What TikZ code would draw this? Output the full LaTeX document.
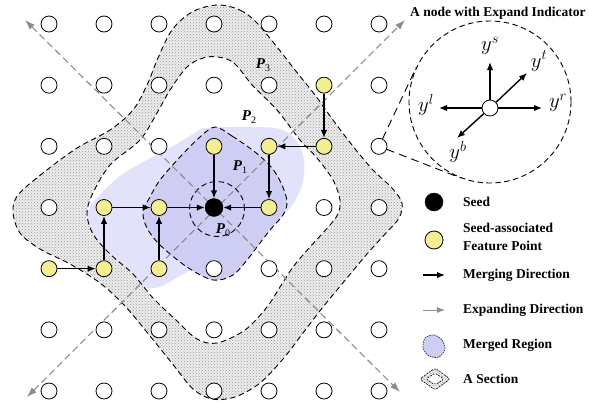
\documentclass[tikz,border=0pt]{standalone}
\usepackage{fontspec}
\setmainfont{Liberation Serif}
\usetikzlibrary{calc,arrows.meta,patterns}
\DeclareMathSizes{21}{21}{15}{11}
\definecolor{blobcol}{RGB}{226,226,250}
\definecolor{pone}{RGB}{206,206,245}
\definecolor{featyel}{RGB}{242,238,145}
\definecolor{expgray}{RGB}{140,140,140}
\begin{document}
\begin{tikzpicture}[x=1pt,y=-1pt,
  gridpt/.style={circle,draw=black,line width=0.8pt,fill=white,minimum size=16pt,inner sep=0pt},
  featpt/.style={gridpt,fill=featyel},
  seedpt/.style={circle,fill=black,draw=black,minimum size=18pt,inner sep=0pt},
  merge/.style={-{Latex[length=8pt,width=6.5pt]},line width=1.4pt},
  expand/.style={{Latex[length=10pt,width=7pt]}-{Latex[length=10pt,width=7pt]},draw=expgray,line width=1.1pt,dash pattern=on 7pt off 4pt},
  bound/.style={draw=black,line width=0.9pt,dash pattern=on 5.5pt off 3.5pt},
  lgd/.style={anchor=west,font=\bfseries\fontsize{13.5}{17.5}\selectfont,inner sep=0pt},
  plab/.style={font=\bfseries\itshape\fontsize{15}{15}\selectfont,inner sep=0pt},
  ylab/.style={font=\fontsize{21}{21}\selectfont,inner sep=0pt},
  stipple/.style={pattern=crosshatch dots,pattern color=gray!80,preaction={fill=gray!14}},
  outercurve/.style={insert path={plot[smooth cycle,tension=0.55] coordinates {(217,5) (240,10) (257,23) (277,47) (295,70) (315,95) (333,120) (352,145) (373,170) (392,188) (402,203) (399,218) (386,233) (367,254) (347,278) (323,307) (303,333) (283,359) (260,383) (235,397) (212,399) (193,389) (175,367) (150,336) (125,306) (100,283) (70,264) (40,249) (20,233) (13,212) (18,195) (43,173) (77,148) (110,130) (133,110) (147,85) (158,58) (172,30) (192,12)}}},
  middlecurve/.style={insert path={plot[smooth cycle,tension=0.55] coordinates {(218,57) (234,63) (253,86) (277,110) (300,140) (317,158) (333,180) (340,200) (338,214) (330,225) (310,247) (293,267) (280,287) (267,307) (245,330) (217,343) (197,339) (177,321) (153,298) (133,274) (110,254) (93,234) (87,214) (92,195) (110,165) (140,140) (157,113) (170,90) (187,67) (203,58)}}},
  innercurve/.style={insert path={plot[smooth cycle,tension=0.55] coordinates {(215,127) (232,136) (255,152) (272,168) (282,185) (287,202) (283,215) (270,230) (257,247) (247,260) (233,275) (213,280) (187,267) (160,245) (147,228) (143,212) (150,197) (160,180) (180,157) (200,137)}}},
  blobcurve/.style={insert path={plot[smooth cycle,tension=0.55] coordinates {(205,128) (250,127) (280,129) (296,140) (304,160) (302,185) (290,208) (268,228) (240,244) (210,259) (180,276) (155,288) (128,282) (100,260) (88,235) (88,212) (97,198) (120,176) (145,161) (173,146) (195,133)}}}
]
\useasboundingbox (0,0) rectangle (589,402);
% regions
\path[stipple,outercurve];
\fill[white,middlecurve];
\begin{scope}
\clip[middlecurve];
\fill[blobcol,blobcurve];
\end{scope}
\fill[pone,innercurve];
\draw[bound,outercurve];
\draw[bound,middlecurve];
\draw[bound,innercurve];
\node[circle,bound,minimum size=55pt,inner sep=0pt] (p0) at (217,209) {};
% expanding directions
\coordinate (e1) at (27,397);
\coordinate (e2) at (405,20);
\coordinate (e3) at (25,20);
\coordinate (e4) at (400,392);
\draw[expand] (e1) -- (e2);
\draw[expand] (e3) -- (e4);
% grid
\foreach \i/\j in {0/0,1/0,2/0,3/0,4/0,5/0,6/0,0/1,1/1,2/1,3/1,4/1,6/1,0/2,1/2,2/2,6/2,0/3,5/3,6/3,3/4,4/4,5/4,6/4,0/5,1/5,2/5,3/5,4/5,5/5,6/5,0/6,1/6,2/6,3/6,4/6,5/6,6/6}
  \node[gridpt] (n\i\j) at ({49+55*\i},{24+61.17*\j}) {};
\foreach \i/\j in {3/2,4/2,5/1,5/2,4/3,1/3,2/3,0/4,1/4,2/4}
  \node[featpt] (n\i\j) at ({49+55*\i},{24+61.17*\j}) {};
\node[seedpt] (n33) at ({49+55*3},{24+61.17*3}) {};
% merging directions
\draw[merge] (n32) -- (n33);
\draw[merge] (n43) -- (n33);
\draw[merge] (n23) -- (n33);
\draw[merge] (n13) -- (n23);
\draw[merge] (n14) -- (n13);
\draw[merge] (n24) -- (n23);
\draw[merge] (n04) -- (n14);
\draw[merge] (n51) -- (n52);
\draw[merge] (n52) -- (n42);
\draw[merge] (n42) -- (n43);
% section labels
\node[plab] (p3lab) at (263,65) {P\raisebox{-3pt}{\normalfont\fontsize{10}{10}\selectfont 3}};
\node[plab] (p2lab) at (249,117) {P\raisebox{-3pt}{\normalfont\fontsize{10}{10}\selectfont 2}};
\node[plab] (p1lab) at (240,167) {P\raisebox{-3pt}{\normalfont\fontsize{10}{10}\selectfont 1}};
\node[plab] (p0lab) at (223,230) {P\raisebox{-3pt}{\normalfont\fontsize{10}{10}\selectfont 0}};
% expand indicator zoom
\node[circle,bound,minimum size=162pt,inner sep=0pt] (zoomc) at (490,102) {};
\draw[bound,dash pattern=on 8pt off 5pt] (n62) -- (tangent cs:node=zoomc,point={(n62)},solution=1);
\draw[bound,dash pattern=on 8pt off 5pt] (n62) -- (tangent cs:node=zoomc,point={(n62)},solution=2);
\node[gridpt] (ctr) at (490,108) {};
\coordinate (ys) at (490,62);
\coordinate (yt) at (527,73);
\coordinate (yl) at (439,108);
\coordinate (yr) at (542,108);
\coordinate (yb) at (457,138);
\draw[merge] (ctr) -- (ys);
\draw[merge] (ctr) -- (yt);
\draw[merge] (ctr) -- (yl);
\draw[merge] (ctr) -- (yr);
\draw[merge] (ctr) -- (yb);
\node[ylab] (lys) at (490,46) {$y^s$};
\node[ylab] (lyt) at (539,61) {$y^t$};
\node[ylab] (lyl) at (426,105) {$y^l$};
\node[ylab] (lyr) at (558,103) {$y^r$};
\node[ylab] (lyb) at (458,152) {$y^b$};
\node[lgd] (ttitle) at (410,13) {A node with Expand Indicator};
% legend
\node[seedpt] (lseed) at (434,202) {};
\node[lgd] (tseed) at (463,202) {Seed};
\node[featpt,minimum size=18pt] (lfeat) at (434,240) {};
\node[lgd,align=left] (tfeat) at (463,237) {Seed-associated\\Feature Point};
\coordinate (lm1) at (423,275);
\coordinate (lm2) at (445,275);
\draw[merge] (lm1) -- (lm2);
\node[lgd] (tmerge) at (463,275) {Merging Direction};
\coordinate (le1) at (423,310);
\coordinate (le2) at (445,310);
\draw[-{Latex[length=8pt,width=6pt]},draw=expgray,line width=1pt] (le1) -- (le2);
\node[lgd] (texp) at (463,310) {Expanding Direction};
\draw[draw=black!75,dash pattern=on 1.5pt off 1pt,line width=0.8pt,fill=pone] plot[smooth cycle] coordinates {(425,338) (434,335) (442,340) (445,349) (439,357) (429,356) (423,348)};
\node[lgd] (tregion) at (463,345) {Merged Region};
\path[stipple,even odd rule] (420,379) -- (435,368) -- (450,379) -- (435,390) -- cycle (426,379) -- (435,373) -- (444,379) -- (435,385) -- cycle;
\fill[white] (426,379) -- (435,373) -- (444,379) -- (435,385) -- cycle;
\draw[draw=black,line width=0.6pt,dash pattern=on 2pt off 1pt,rounded corners=2pt] (420,379) -- (435,368) -- (450,379) -- (435,390) -- cycle;
\draw[draw=black,line width=0.6pt,dash pattern=on 2pt off 1pt,rounded corners=2pt] (426,379) -- (435,373) -- (444,379) -- (435,385) -- cycle;
\node[lgd] (tsection) at (463,379) {A Section};
\end{tikzpicture}
\end{document}
